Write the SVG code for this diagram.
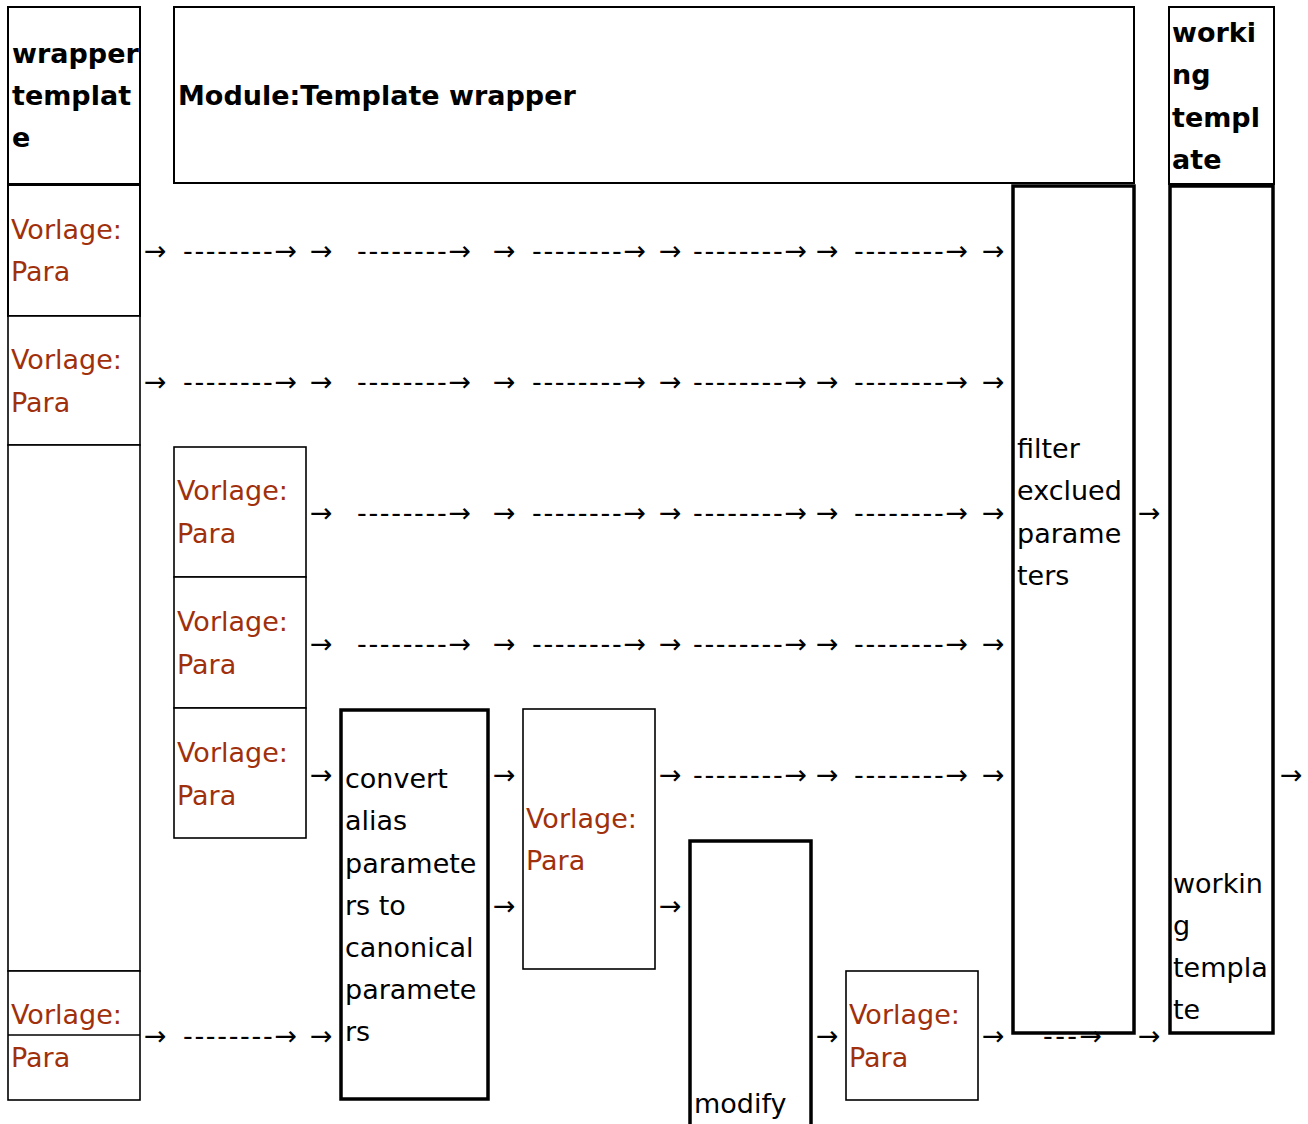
<svg xmlns="http://www.w3.org/2000/svg" width="1308" height="1124" viewBox="0 0 1308 1124">
<style>
text{font-family:"DejaVu Sans","Noto Sans",sans-serif;font-size:27px;fill:#000}
.b{font-weight:bold}
.v{fill:#a0300c}
.thin{fill:#fff;stroke:#000;stroke-width:1.6}
.hdr{fill:#fff;stroke:#000;stroke-width:2}
.thick{fill:#fff;stroke:#000;stroke-width:3.5}
</style>
<rect width="1308" height="1124" fill="#fff"/>
<g id="wrapper-template">
<rect class="hdr" x="8" y="7" width="132" height="177"/>
<text class="b" x="12" y="63">wrapper</text>
<text class="b" x="12" y="105">templat</text>
<text class="b" x="12" y="147">e</text>
</g>
<g id="module">
<rect class="hdr" x="174" y="7" width="960" height="176"/>
<text class="b" x="178" y="105">Module:Template wrapper</text>
</g>
<g id="working-template-header">
<rect class="hdr" x="1169" y="7" width="105" height="177"/>
<text class="b" x="1172" y="42">worki</text>
<text class="b" x="1172" y="84">ng</text>
<text class="b" x="1172" y="127">templ</text>
<text class="b" x="1172" y="169">ate</text>
</g>
<g id="w-para1">
<rect class="hdr" x="8" y="185" width="132" height="131"/>
<text class="v" x="11" y="239">Vorlage:</text>
<text class="v" x="11" y="281">Para</text>
</g>
<g id="w-para2">
<rect class="thin" x="8" y="316" width="132" height="129"/>
<text class="v" x="11" y="369">Vorlage:</text>
<text class="v" x="11" y="412">Para</text>
</g>
<g id="w-empty">
<rect class="thin" x="8" y="445" width="132" height="526"/>
</g>
<g id="w-para3">
<rect class="thin" x="8" y="971" width="132" height="129"/>
<line x1="8" y1="1035" x2="140" y2="1035" stroke="#000" stroke-width="1.6"/>
<text class="v" x="11" y="1024">Vorlage:</text>
<text class="v" x="11" y="1067">Para</text>
</g>
<g id="c-para1">
<rect class="thin" x="174" y="447" width="132" height="130"/>
<text class="v" x="177" y="500">Vorlage:</text>
<text class="v" x="177" y="543">Para</text>
</g>
<g id="c-para2">
<rect class="thin" x="174" y="577" width="132" height="131"/>
<text class="v" x="177" y="631">Vorlage:</text>
<text class="v" x="177" y="674">Para</text>
</g>
<g id="c-para3">
<rect class="thin" x="174" y="708" width="132" height="130"/>
<text class="v" x="177" y="762">Vorlage:</text>
<text class="v" x="177" y="805">Para</text>
</g>
<g id="convert">
<rect class="thick" x="341" y="710" width="147" height="389"/>
<text x="345" y="788">convert</text>
<text x="345" y="830">alias</text>
<text x="345" y="873">paramete</text>
<text x="345" y="915">rs to</text>
<text x="345" y="957">canonical</text>
<text x="345" y="999">paramete</text>
<text x="345" y="1041">rs</text>
</g>
<g id="m-para">
<rect class="thin" x="523" y="709" width="132" height="260"/>
<text class="v" x="526" y="828">Vorlage:</text>
<text class="v" x="526" y="870">Para</text>
</g>
<g id="modify">
<rect class="thick" x="690" y="841" width="121" height="300"/>
<text x="694" y="1113">modify</text>
</g>
<g id="r-para">
<rect class="thin" x="846" y="971" width="132" height="129"/>
<text class="v" x="849" y="1024">Vorlage:</text>
<text class="v" x="849" y="1067">Para</text>
</g>
<g id="filter">
<rect class="thick" x="1013" y="186" width="121" height="847"/>
<text x="1017" y="458">filter</text>
<text x="1017" y="500">exclued</text>
<text x="1017" y="543">parame</text>
<text x="1017" y="585">ters</text>
</g>
<g id="working-template">
<rect class="thick" x="1170" y="186" width="103" height="847"/>
<text x="1173" y="893">workin</text>
<text x="1173" y="935">g</text>
<text x="1173" y="977">templa</text>
<text x="1173" y="1019">te</text>
</g>
<g id="connectors">
<text x="144" y="260">→</text><text x="183" y="260" textLength="114" lengthAdjust="spacing">--------→</text>
<text x="310" y="260">→</text><text x="357" y="260" textLength="114" lengthAdjust="spacing">--------→</text>
<text x="493" y="260">→</text><text x="532" y="260" textLength="114" lengthAdjust="spacing">--------→</text>
<text x="659" y="260">→</text><text x="693" y="260" textLength="114" lengthAdjust="spacing">--------→</text>
<text x="816" y="260">→</text><text x="854" y="260" textLength="114" lengthAdjust="spacing">--------→</text>
<text x="982" y="260">→</text>

<text x="144" y="391">→</text><text x="183" y="391" textLength="114" lengthAdjust="spacing">--------→</text>
<text x="310" y="391">→</text><text x="357" y="391" textLength="114" lengthAdjust="spacing">--------→</text>
<text x="493" y="391">→</text><text x="532" y="391" textLength="114" lengthAdjust="spacing">--------→</text>
<text x="659" y="391">→</text><text x="693" y="391" textLength="114" lengthAdjust="spacing">--------→</text>
<text x="816" y="391">→</text><text x="854" y="391" textLength="114" lengthAdjust="spacing">--------→</text>
<text x="982" y="391">→</text>

<text x="310" y="522">→</text><text x="357" y="522" textLength="114" lengthAdjust="spacing">--------→</text>
<text x="493" y="522">→</text><text x="532" y="522" textLength="114" lengthAdjust="spacing">--------→</text>
<text x="659" y="522">→</text><text x="693" y="522" textLength="114" lengthAdjust="spacing">--------→</text>
<text x="816" y="522">→</text><text x="854" y="522" textLength="114" lengthAdjust="spacing">--------→</text>
<text x="982" y="522">→</text>
<text x="1138" y="522">→</text>

<text x="310" y="653">→</text><text x="357" y="653" textLength="114" lengthAdjust="spacing">--------→</text>
<text x="493" y="653">→</text><text x="532" y="653" textLength="114" lengthAdjust="spacing">--------→</text>
<text x="659" y="653">→</text><text x="693" y="653" textLength="114" lengthAdjust="spacing">--------→</text>
<text x="816" y="653">→</text><text x="854" y="653" textLength="114" lengthAdjust="spacing">--------→</text>
<text x="982" y="653">→</text>

<text x="310" y="784">→</text>
<text x="493" y="784">→</text>
<text x="659" y="784">→</text><text x="693" y="784" textLength="114" lengthAdjust="spacing">--------→</text>
<text x="816" y="784">→</text><text x="854" y="784" textLength="114" lengthAdjust="spacing">--------→</text>
<text x="982" y="784">→</text>
<text x="1280" y="784">→</text>

<text x="493" y="915">→</text>
<text x="659" y="915">→</text>

<text x="144" y="1045">→</text><text x="183" y="1045" textLength="114" lengthAdjust="spacing">--------→</text>
<text x="310" y="1045">→</text>
<text x="816" y="1045">→</text>
<text x="982" y="1045">→</text>
<text x="1043" y="1045" textLength="59" lengthAdjust="spacing">---→</text>
<text x="1138" y="1045">→</text>
</g>
</svg>
